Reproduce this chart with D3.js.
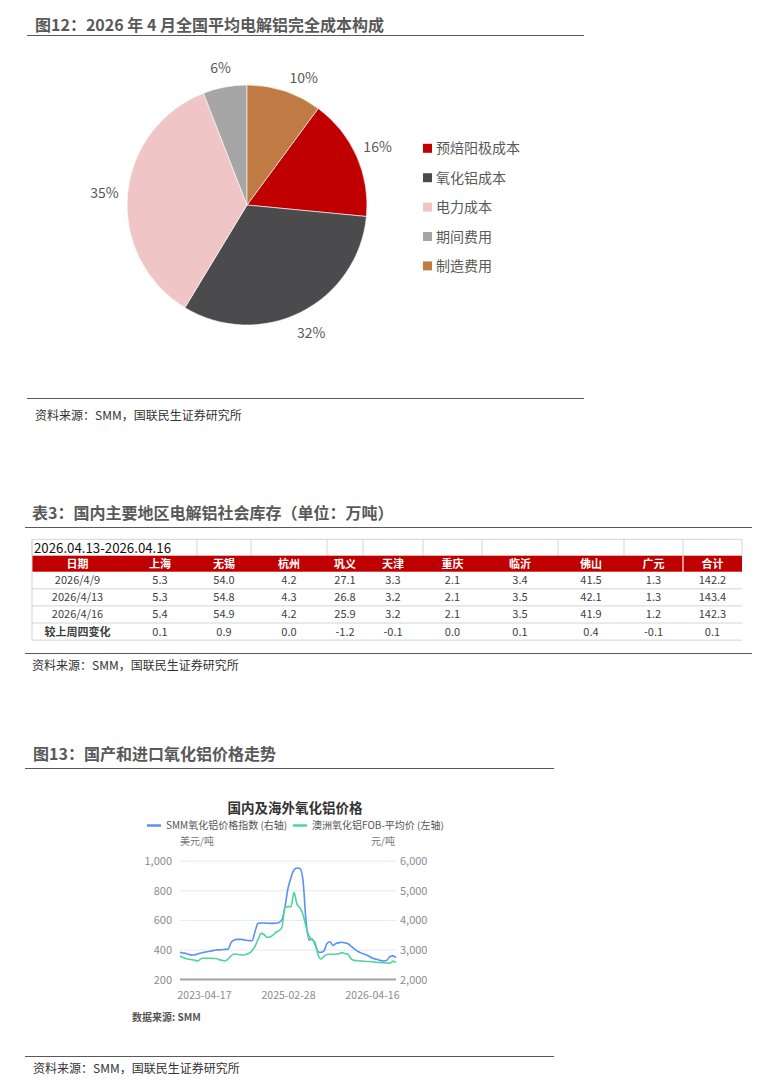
<!DOCTYPE html>
<html>
<head>
<meta charset="utf-8">
<script src="https://cdn.jsdelivr.net/npm/d3@7"></script>
<style>
  body { margin: 0; background: #fff; }
  svg { display: block; }
  text { font-family: "Noto Sans CJK SC", "Noto Sans", sans-serif; }
</style>
</head>
<body>
<svg id="page" width="784" height="1081"></svg>
<script>
// ---- figure 12: cost structure pie ----
const costItems = ['预焙阳极成本', '氧化铝成本', '电力成本', '期间费用', '制造费用'];
const costShares = [16.4, 32.1, 35.4, 5.9, 10.1];
const costColors = ['#c00000', '#4b4b4d', '#efc5c5', '#a6a6a6', '#c07a44'];

// ---- table 3: social inventory ----
const tableRange = '2026.04.13-2026.04.16';
const regions = ['上海', '无锡', '杭州', '巩义', '天津', '重庆', '临沂', '佛山', '广元', '合计'];
const rowLabels = ['2026/4/9', '2026/4/13', '2026/4/16', '较上周四变化'];
const stock0409 = [5.3, 54.0, 4.2, 27.1, 3.3, 2.1, 3.4, 41.5, 1.3, 142.2];
const stock0413 = [5.3, 54.8, 4.3, 26.8, 3.2, 2.1, 3.5, 42.1, 1.3, 143.4];
const stock0416 = [5.4, 54.9, 4.2, 25.9, 3.2, 2.1, 3.5, 41.9, 1.2, 142.3];
const weekChange = [0.1, 0.9, 0.0, -1.2, -0.1, 0.0, 0.1, 0.4, -0.1, 0.1];

// ---- figure 13: alumina prices ----
const xTickLabels = ['2023-04-17', '2025-02-28', '2026-04-16'];
const xTickAt = [8, 36, 64];
// SMM 氧化铝价格指数 (元/吨, right axis)
const smmIndex = [2920, 2900, 2880, 2850, 2830, 2840, 2870, 2900, 2920, 2940, 2960, 2980, 3000, 3005, 3010, 3020,
  3025, 3250, 3340, 3360, 3360, 3350, 3330, 3320, 3310, 3620, 3900, 3910, 3910, 3905, 3900, 3900, 3905, 3930, 4030,
  4460, 5080, 5450, 5700, 5770, 5750, 5350, 4000, 3340, 3370, 3190, 2940, 2920, 2970, 3220, 3280, 3150, 3220, 3250,
  3260, 3240, 3210, 3130, 3050, 2970, 2920, 2870, 2840, 2790, 2730, 2700, 2670, 2640, 2630, 2660, 2780, 2800, 2740];
// 澳洲氧化铝FOB-平均价 (美元/吨, left axis)
const ausFob = [360, 350, 342, 338, 334, 330, 326, 342, 344, 344, 344, 343, 343, 335, 330, 326, 338, 360, 373, 371,
  368, 366, 370, 378, 395, 425, 470, 512, 505, 485, 488, 500, 520, 530, 555, 690, 693, 693, 790, 710, 685, 640, 560,
  495, 470, 450, 370, 340, 358, 370, 371, 371, 371, 374, 382, 376, 371, 340, 330, 328, 326, 325, 322, 322, 321, 318,
  316, 315, 314, 312, 310, 325, 314];

const svg = d3.select('#page');
const titleGray = '#595959';

function sectionHead(x, y, text, x1, x2, lineY) {
    svg.append('text').attr('x', x).attr('y', y).attr('font-size', 16).attr('font-weight', 'bold')
        .attr('fill', titleGray).text(text);
    svg.append('line').attr('x1', x1).attr('x2', x2).attr('y1', lineY).attr('y2', lineY)
        .attr('stroke', titleGray).attr('stroke-width', 1.2);
}
function sourceFoot(x, y, x1, x2, lineY) {
    svg.append('line').attr('x1', x1).attr('x2', x2).attr('y1', lineY).attr('y2', lineY)
        .attr('stroke', titleGray).attr('stroke-width', 1.2);
    svg.append('text').attr('x', x).attr('y', y).attr('font-size', 12).attr('fill', '#333')
        .text('资料来源：SMM，国联民生证券研究所');
}

// ================= pie =================
sectionHead(35, 31, '图12：2026 年 4 月全国平均电解铝完全成本构成', 27, 584, 35.5);

const pieData = costItems.map((name, i) => ({ name, value: costShares[i], color: costColors[i] }));
const total = d3.sum(costShares);
const offset = 2 * Math.PI * costShares[4] / total;
const pie = d3.pie().sort(null).value(d => d.value).startAngle(offset).endAngle(offset + 2 * Math.PI);
const arc = d3.arc().innerRadius(0).outerRadius(120);
const labelArc = d3.arc().innerRadius(143).outerRadius(143);

const pg = svg.append('g').attr('transform', 'translate(247,205)');
pg.selectAll('path').data(pie(pieData)).join('path')
    .attr('d', arc).attr('fill', d => d.data.color)
    .attr('stroke', '#fff').attr('stroke-width', 0.6);
pg.selectAll('text').data(pie(pieData)).join('text')
    .attr('transform', d => {
        // nudge the two small top slices' labels a bit like Excel's best fit
        const [cx, cy] = labelArc.centroid(d);
        const a = (d.startAngle + d.endAngle) / 2;
        const push = a > 2 * Math.PI ? 0.09 : 0;
        const r = Math.hypot(cx, cy);
        return `translate(${r * Math.sin(a + push)},${-r * Math.cos(a + push) + (a > 2 * Math.PI - 0.4 ? 4 : 0)})`;
    })
    .attr('text-anchor', 'middle').attr('dy', '0.35em')
    .attr('font-size', 14).attr('fill', '#595959')
    .text(d => Math.round(d.data.value) + '%');

const lg = svg.append('g').selectAll('g').data(pieData).join('g')
    .attr('transform', (d, i) => `translate(423,${148.3 + i * 29.4})`);
lg.append('rect').attr('x', 0).attr('y', -4.5).attr('width', 9).attr('height', 9).attr('fill', d => d.color);
lg.append('text').attr('x', 13).attr('dy', '0.36em').attr('font-size', 14).attr('fill', '#595959')
    .text(d => d.name);

sourceFoot(35, 420, 27, 584, 398.5);

// ================= table =================
sectionHead(32, 519, '表3：国内主要地区电解铝社会库存（单位：万吨）', 25, 752, 527.5);

const colEdges = [32, 123, 197, 251, 327, 363, 423, 482, 558, 624, 683, 742];
const gridGray = '#d4d4d4';
const tg = svg.append('g');
const top0 = 539.3, headTop = 555.7, headH = 16, rowH = 17.1;
const bodyTop = headTop + headH;

// first row: date range + empty cells
tg.append('line').attr('x1', 32).attr('x2', 742).attr('y1', top0).attr('y2', top0).attr('stroke', gridGray);
[32, 197, 251, 327, 363, 423, 482, 558, 624, 683, 742].forEach(x => {
    tg.append('line').attr('x1', x).attr('x2', x).attr('y1', top0).attr('y2', headTop).attr('stroke', gridGray);
});
tg.append('text').attr('x', 34).attr('y', 552.5).attr('font-family', '"Liberation Mono", monospace')
    .attr('font-size', 13).attr('fill', '#111').attr('textLength', 137).attr('lengthAdjust', 'spacingAndGlyphs')
    .text(tableRange);

// red header row
tg.append('rect').attr('x', 32).attr('y', headTop).attr('width', 710).attr('height', headH).attr('fill', '#c00000');
tg.append('line').attr('x1', 683).attr('x2', 683).attr('y1', headTop).attr('y2', headTop + headH)
    .attr('stroke', '#fff').attr('stroke-width', 1.2);
const headers = ['日期'].concat(regions);
const colMid = i => (colEdges[i] + colEdges[i + 1]) / 2;
headers.forEach((h, i) => {
    tg.append('text').attr('x', colMid(i)).attr('y', headTop + headH / 2).attr('dy', '0.36em')
        .attr('text-anchor', 'middle').attr('font-size', 11).attr('font-weight', 'bold').attr('fill', '#fff').text(h);
});

const bodyRows = [stock0409, stock0413, stock0416, weekChange];
bodyRows.forEach((vals, r) => {
    const y0 = bodyTop + r * rowH;
    tg.append('line').attr('x1', 32).attr('x2', 742).attr('y1', y0 + rowH).attr('y2', y0 + rowH).attr('stroke', gridGray);
    tg.append('text').attr('x', colMid(0)).attr('y', y0 + rowH / 2).attr('dy', '0.36em')
        .attr('text-anchor', 'middle').attr('font-size', 11).attr('fill', '#404040')
        .attr('font-weight', r === 3 ? 'bold' : 'normal').text(rowLabels[r]);
    vals.forEach((v, c) => {
        tg.append('text').attr('x', colMid(c + 1)).attr('y', y0 + rowH / 2).attr('dy', '0.36em')
            .attr('text-anchor', 'middle').attr('font-size', 11).attr('fill', '#404040').text(v.toFixed(1));
    });
});
tg.append('line').attr('x1', 32).attr('x2', 32).attr('y1', top0).attr('y2', bodyTop + 4 * rowH).attr('stroke', gridGray);

sourceFoot(32, 670, 25, 752, 653.5);

// ================= line chart =================
sectionHead(33, 760, '图13：国产和进口氧化铝价格走势', 25, 554, 768.5);

const cg = svg.append('g');
cg.append('text').attr('x', 295).attr('y', 813).attr('text-anchor', 'middle').attr('font-size', 13.5)
    .attr('font-weight', 'bold').attr('fill', '#333').text('国内及海外氧化铝价格');

const series = [
    { name: 'SMM氧化铝价格指数 (右轴)', color: '#5b8ff9', values: smmIndex, axis: 'right' },
    { name: '澳洲氧化铝FOB-平均价 (左轴)', color: '#4fd49d', values: ausFob, axis: 'left' }
];
const legendX = [147, 293];
series.forEach((s, i) => {
    cg.append('line').attr('x1', legendX[i]).attr('x2', legendX[i] + 14).attr('y1', 825.5).attr('y2', 825.5)
        .attr('stroke', s.color).attr('stroke-width', 2.5);
    cg.append('text').attr('x', legendX[i] + 19).attr('y', 825.5).attr('dy', '0.36em').attr('font-size', 10)
        .attr('fill', '#555').text(s.name);
});
cg.append('text').attr('x', 180).attr('y', 845).attr('font-size', 10).attr('fill', '#777').text('美元/吨');
cg.append('text').attr('x', 395).attr('y', 845).attr('text-anchor', 'end').attr('font-size', 10).attr('fill', '#777').text('元/吨');

const x = d3.scaleLinear().domain([0, smmIndex.length - 1]).range([180, 396]);
const yL = d3.scaleLinear().domain([200, 1000]).range([979.6, 861.2]);
const yR = d3.scaleLinear().domain([2000, 6000]).range([979.6, 861.2]);

const leftTicks = yL.ticks(4);
cg.selectAll('.grid').data(leftTicks.filter(t => t > 200)).join('line')
    .attr('x1', 180).attr('x2', 396).attr('y1', d => yL(d)).attr('y2', d => yL(d))
    .attr('stroke', '#e3e8f2').attr('stroke-width', 1);
cg.append('line').attr('x1', 180).attr('x2', 396).attr('y1', yL(200)).attr('y2', yL(200))
    .attr('stroke', '#a3a3a3').attr('stroke-width', 2);

const axisL = d3.axisLeft(yL).ticks(4).tickSize(0).tickPadding(8).tickFormat(d3.format(','));
const axisR = d3.axisRight(yR).ticks(4).tickSize(0).tickPadding(4).tickFormat(d3.format(','));
const gL = cg.append('g').attr('transform', 'translate(180,0)').call(axisL);
const gR = cg.append('g').attr('transform', 'translate(396,0)').call(axisR);
[gL, gR].forEach(g => {
    g.select('.domain').remove();
    g.selectAll('text').attr('font-size', 11).attr('fill', '#8c8c8c')
        .attr('font-family', '"Noto Sans", sans-serif');
});

const axisB = d3.axisBottom(x).tickValues(xTickAt).tickSize(0).tickPadding(12)
    .tickFormat((d, i) => xTickLabels[i]);
const gB = cg.append('g').attr('transform', `translate(0,${yL(200)})`).call(axisB);
gB.select('.domain').remove();
gB.selectAll('text').attr('font-size', 10.5).attr('fill', '#8c8c8c').attr('font-family', '"Noto Sans", sans-serif');

series.forEach(s => {
    const yS = s.axis === 'right' ? yR : yL;
    const line = d3.line().x((d, i) => x(i)).y(d => yS(d)).curve(d3.curveMonotoneX);
    cg.append('path').datum(s.values).attr('d', line).attr('fill', 'none')
        .attr('stroke', s.color).attr('stroke-width', 1.6).attr('stroke-linejoin', 'round');
});

cg.append('text').attr('x', 132).attr('y', 1021).attr('font-size', 10).attr('font-weight', 'bold')
    .attr('fill', '#555').text('数据来源: SMM');

sourceFoot(33, 1073, 25, 554, 1056.5);
</script>
</body>
</html>
